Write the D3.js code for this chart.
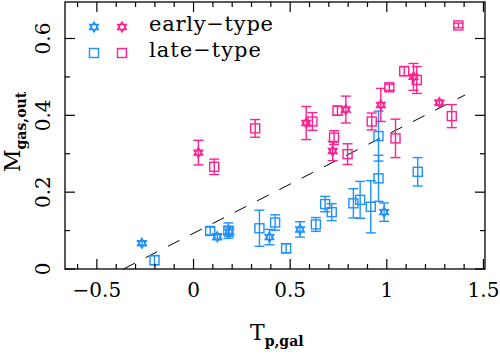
<!DOCTYPE html>
<html>
<head>
<meta charset="utf-8">
<script src="https://cdn.jsdelivr.net/npm/d3@7"></script>
<style>
  body { margin: 0; background: #fff; }
  text { font-family: "DejaVu Serif", "Liberation Serif", serif; fill: #000; }
</style>
</head>
<body>
<div id="chart"></div>
<script>
// values: [T_p,gal, M_gas,out, error]
var blueEarly = [
  [-0.267, 0.067, 0.005], [0.123, 0.084, 0.008], [0.185, 0.097, 0.012],
  [0.393, 0.083, 0.02], [0.551, 0.103, 0.02], [0.986, 0.148, 0.024]
];
var blueLate = [
  [-0.202, 0.023, 0.012], [0.086, 0.099, 0.01], [0.18, 0.10, 0.02],
  [0.341, 0.106, 0.047], [0.422, 0.121, 0.02], [0.479, 0.054, 0.012],
  [0.633, 0.116, 0.018], [0.681, 0.169, 0.02], [0.715, 0.148, 0.022],
  [0.827, 0.171, 0.038], [0.862, 0.18, 0.048], [0.917, 0.162, 0.068],
  [0.957, 0.236, 0.06], [0.957, 0.346, 0.065], [1.16, 0.253, 0.037]
];
var pinkEarly = [
  [0.025, 0.303, 0.032], [0.583, 0.380, 0.043], [0.72, 0.307, 0.025],
  [0.788, 0.415, 0.035], [0.969, 0.427, 0.043], [1.138, 0.50, 0.035],
  [1.272, 0.433, 0.006]
];
var pinkLate = [
  [0.107, 0.266, 0.02], [0.319, 0.366, 0.023], [0.615, 0.384, 0.023],
  [0.727, 0.342, 0.018], [0.745, 0.412, 0.012], [0.797, 0.299, 0.027],
  [0.922, 0.384, 0.022], [1.013, 0.473, 0.008], [1.045, 0.340, 0.05],
  [1.09, 0.515, 0.012], [1.155, 0.492, 0.035], [1.336, 0.398, 0.03],
  [1.37, 0.634, 0.006]
];
// dashed fit line end points
var fitX = [-0.363, 1.405];
var fitY = [0, 0.453];

var xTicks = [-0.5, 0, 0.5, 1, 1.5];
var yTicks = [0, 0.2, 0.4, 0.6];
var legendLabels = ["early\u2212type", "late\u2212type"];

var blue = "#1e90ff", pink = "#ff2090";

var width = 500, height = 354;
var pLeft = 65, pRight = 485, pTop = 2, pBottom = 269;

var svg = d3.select("#chart").append("svg")
  .attr("width", width)
  .attr("height", height);

var x = d3.scaleLinear().domain([-0.665, 1.508]).range([pLeft, pRight]);
var y = d3.scaleLinear().domain([0, 0.695]).range([pBottom, pTop]);

// hexagram (two triangles)
function hexagram(r) {
  var p = d3.path();
  [[-90, 30, 150], [90, 210, 330]].forEach(function(tri) {
    tri.forEach(function(a, i) {
      var t = a * Math.PI / 180;
      if (i == 0) p.moveTo(r * Math.cos(t), r * Math.sin(t));
      else p.lineTo(r * Math.cos(t), r * Math.sin(t));
    });
    p.closePath();
  });
  return p.toString();
}

function drawSet(data, color, shape) {
  var g = svg.append("g")
    .attr("stroke", color)
    .attr("stroke-width", 1.4)
    .attr("fill", "none");
  var pts = g.selectAll("g.pt").data(data).enter().append("g")
    .attr("class", "pt");
  pts.append("line")
    .attr("x1", d => x(d[0])).attr("x2", d => x(d[0]))
    .attr("y1", d => y(d[1] - d[2])).attr("y2", d => y(d[1] + d[2]));
  pts.append("line")
    .attr("x1", d => x(d[0]) - 5).attr("x2", d => x(d[0]) + 5)
    .attr("y1", d => y(d[1] - d[2])).attr("y2", d => y(d[1] - d[2]));
  pts.append("line")
    .attr("x1", d => x(d[0]) - 5).attr("x2", d => x(d[0]) + 5)
    .attr("y1", d => y(d[1] + d[2])).attr("y2", d => y(d[1] + d[2]));
  if (shape == "square") {
    pts.append("rect")
      .attr("x", d => x(d[0]) - 4.5).attr("y", d => y(d[1]) - 4.5)
      .attr("width", 9).attr("height", 9);
  } else {
    pts.append("path")
      .attr("transform", d => "translate(" + x(d[0]) + "," + y(d[1]) + ")")
      .attr("d", hexagram(5));
  }
}

// fit line
svg.append("line")
  .attr("x1", x(fitX[0])).attr("y1", y(fitY[0]))
  .attr("x2", x(fitX[1])).attr("y2", y(fitY[1]))
  .attr("stroke", "#000")
  .attr("stroke-width", 1)
  .attr("stroke-dasharray", "13,12");

drawSet(blueLate, blue, "square");
drawSet(blueEarly, blue, "star");
drawSet(pinkLate, pink, "square");
drawSet(pinkEarly, pink, "star");

// frame
svg.append("rect")
  .attr("x", pLeft).attr("y", pTop)
  .attr("width", pRight - pLeft).attr("height", pBottom - pTop)
  .attr("fill", "none").attr("stroke", "#000").attr("stroke-width", 1.3);

// ticks, pointing inwards on all four sides
var xMinor = d3.range(-0.6, 1.51, 0.1).filter(v => Math.abs(v * 2 - Math.round(v * 2)) > 1e-6);
var yMinor = [0.1, 0.3, 0.5];
var tk = svg.append("g").attr("stroke", "#000").attr("stroke-width", 1.2);
function xtick(v, len) {
  tk.append("line").attr("x1", x(v)).attr("x2", x(v)).attr("y1", pBottom).attr("y2", pBottom - len);
  tk.append("line").attr("x1", x(v)).attr("x2", x(v)).attr("y1", pTop).attr("y2", pTop + len);
}
function ytick(v, len) {
  tk.append("line").attr("x1", pLeft).attr("x2", pLeft + len).attr("y1", y(v)).attr("y2", y(v));
  tk.append("line").attr("x1", pRight).attr("x2", pRight - len).attr("y1", y(v)).attr("y2", y(v));
}
xTicks.forEach(v => xtick(v, 10));
xMinor.forEach(v => xtick(v, 5));
yTicks.forEach(v => ytick(v, 10));
yMinor.forEach(v => ytick(v, 5));

var fmt = d3.format("");
svg.selectAll("text.xt").data(xTicks).enter().append("text")
  .attr("class", "xt")
  .attr("x", d => x(d)).attr("y", 297)
  .attr("text-anchor", "middle")
  .attr("font-size", 20)
  .text(d => fmt(d));
svg.selectAll("text.yt").data(yTicks).enter().append("text")
  .attr("class", "yt")
  .attr("transform", d => "translate(50," + y(d) + ") rotate(-90)")
  .attr("text-anchor", "middle")
  .attr("font-size", 20)
  .text(d => fmt(d));

// axis titles
var xl = svg.append("text").attr("x", 250).attr("y", 340).attr("font-size", 22);
xl.append("tspan").text("T");
xl.append("tspan").attr("dy", 6).attr("font-size", 14).attr("font-weight", "bold").text("p,gal");

var yl = svg.append("text")
  .attr("transform", "translate(20,172) rotate(-90)")
  .attr("font-size", 22);
yl.append("tspan").text("M");
yl.append("tspan").attr("dy", 6).attr("font-size", 14).attr("font-weight", "bold").text("gas,out");

// legend
var legY = [27, 53];
var lg = svg.append("g").attr("fill", "none").attr("stroke-width", 1.4);
lg.append("path").attr("transform", "translate(94," + legY[0] + ")").attr("d", hexagram(5)).attr("stroke", blue);
lg.append("path").attr("transform", "translate(122," + legY[0] + ")").attr("d", hexagram(5)).attr("stroke", pink);
lg.append("rect").attr("x", 89.5).attr("y", legY[1] - 4.5).attr("width", 9).attr("height", 9).attr("stroke", blue);
lg.append("rect").attr("x", 117.5).attr("y", legY[1] - 4.5).attr("width", 9).attr("height", 9).attr("stroke", pink);
svg.selectAll("text.leg").data(legendLabels).enter().append("text")
  .attr("class", "leg")
  .attr("x", 149).attr("y", (d, i) => legY[i] + 4)
  .attr("font-size", 21)
  .attr("textLength", (d, i) => i == 0 ? 124 : 112)
  .attr("lengthAdjust", "spacing")
  .text(d => d);
</script>
</body>
</html>
